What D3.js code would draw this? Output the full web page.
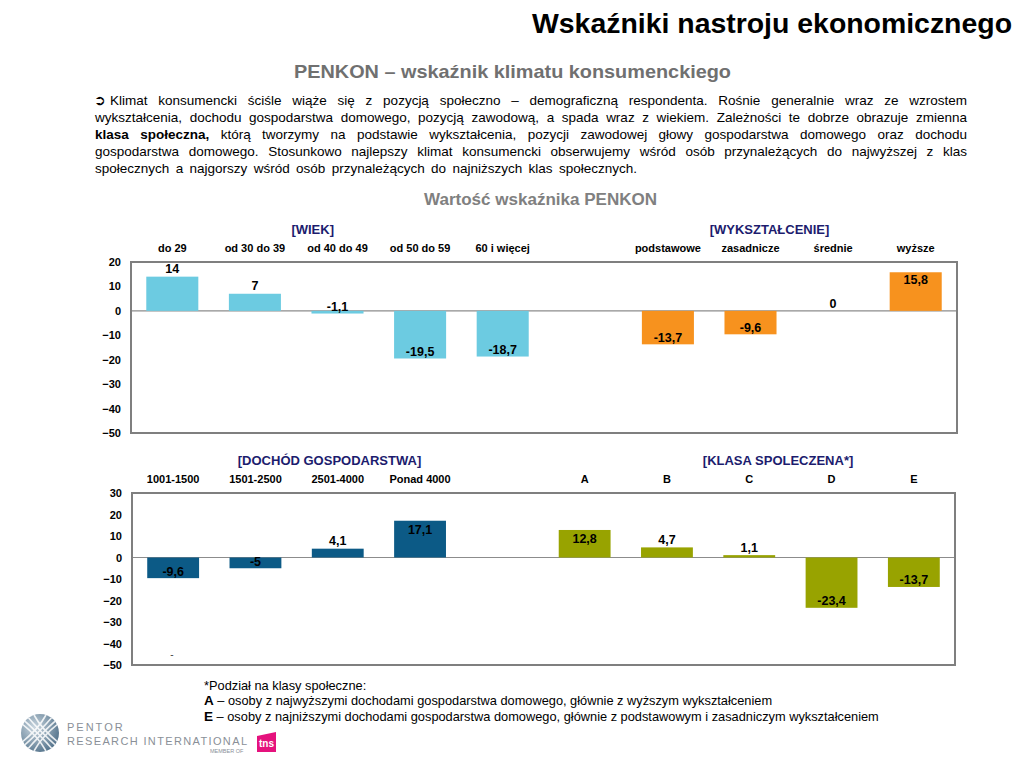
<!DOCTYPE html>
<html>
<head>
<meta charset="utf-8">
<script src="https://cdn.jsdelivr.net/npm/d3@7"></script>
<style>
  body { margin: 0; background: #fff; }
  svg { display: block; font-family: "Liberation Sans", Arial, sans-serif; }
</style>
</head>
<body>
<div id="chart"></div>
<script>
// chart values
const wiekLabels = ["do 29", "od 30 do 39", "od 40 do 49", "od 50 do 59", "60 i więcej"];
const wiekValues = [14, 7, -1.1, -19.5, -18.7];
const wyksztLabels = ["podstawowe", "zasadnicze", "średnie", "wyższe"];
const wyksztValues = [-13.7, -9.6, 0, 15.8];
const dochodLabels = ["1001-1500", "1501-2500", "2501-4000", "Ponad 4000"];
const dochodValues = [-9.6, -5, 4.1, 17.1];
const klasaLabels = ["A", "B", "C", "D", "E"];
const klasaValues = [12.8, 4.7, 1.1, -23.4, -13.7];
const ticksTop = [20, 10, 0, -10, -20, -30, -40, -50];
const ticksBottom = [30, 20, 10, 0, -10, -20, -30, -40, -50];

const paraLines = [
  [["Klimat konsumencki ściśle wiąże się z pozycją społeczno – demograficzną respondenta. Rośnie generalnie wraz ze wzrostem", false]],
  [["wykształcenia, dochodu gospodarstwa domowego, pozycją zawodową, a spada wraz z wiekiem. Zależności te dobrze obrazuje zmienna", false]],
  [["klasa społeczna,", true], ["którą tworzymy na podstawie wykształcenia, pozycji zawodowej głowy gospodarstwa domowego oraz dochodu", false]],
  [["gospodarstwa domowego. Stosunkowo najlepszy klimat konsumencki obserwujemy wśród osób przynależących do najwyższej z klas", false]],
  [["społecznych a najgorszy wśród osób przynależących do najniższych klas społecznych.", false]]
];

const W = 1024, H = 768;
const navy = "#1c1c6e";
const fmt = v => String(v).replace(".", ",");

const svg = d3.select("#chart").append("svg")
  .attr("width", W)
  .attr("height", H);

// title + subtitle
svg.append("text")
  .attr("x", 1012).attr("y", 33)
  .attr("text-anchor", "end")
  .attr("font-size", 27).attr("font-weight", "bold")
  .attr("textLength", 480).attr("lengthAdjust", "spacingAndGlyphs")
  .text("Wskaźniki nastroju ekonomicznego");

svg.append("text")
  .attr("x", 294).attr("y", 78)
  .attr("font-size", 19).attr("font-weight", "bold")
  .attr("fill", "#707070")
  .attr("textLength", 437).attr("lengthAdjust", "spacingAndGlyphs")
  .text("PENKON – wskaźnik klimatu konsumenckiego");

// justified paragraph
const para = svg.append("g").attr("font-size", 13.5);
para.append("text")
  .attr("x", 94).attr("y", 105)
  .attr("font-family", "DejaVu Sans")
  .attr("font-size", 14).attr("font-weight", "bold")
  .text("➲");

paraLines.forEach((segs, li) => {
  const last = li === paraLines.length - 1;
  const x0 = li === 0 ? 110 : 95, x1 = last ? 637 : 967, yy = 105 + li * 17;
  const words = [];
  segs.forEach(([t, bold]) => t.split(" ").forEach(w => words.push({ w, bold })));
  const nodes = words.map(d => para.append("text")
    .attr("y", yy)
    .attr("font-weight", d.bold ? "bold" : "normal")
    .text(d.w));
  const widths = nodes.map(n => n.node().getComputedTextLength());
  const gap = (x1 - x0 - d3.sum(widths)) / (words.length - 1);
  let cx = x0;
  nodes.forEach((n, i) => { n.attr("x", cx); cx += widths[i] + gap; });
});

svg.append("text")
  .attr("x", 424).attr("y", 205)
  .attr("font-size", 16).attr("font-weight", "bold")
  .attr("fill", "#808080")
  .attr("textLength", 233).attr("lengthAdjust", "spacingAndGlyphs")
  .text("Wartość wskaźnika PENKON");

// one panel of grouped bars
function drawPanel(cfg) {
  const g = svg.append("g");
  const y = d3.scaleLinear().domain(cfg.domain).range([cfg.bottom, cfg.top]);
  const x = d3.scaleBand().domain(d3.range(10))
    .range([cfg.left, cfg.right])
    .paddingInner(0.37).paddingOuter(0.185);
  const step = x.step();

  // y axis labels
  const axis = g.append("g")
    .attr("transform", `translate(${cfg.left},0)`)
    .call(d3.axisLeft(y).tickValues(cfg.ticks).tickSize(0).tickPadding(10).tickFormat(d3.format("d")));
  axis.select(".domain").remove();
  axis.selectAll("text")
    .attr("font-family", "Liberation Sans, Arial, sans-serif")
    .attr("font-size", 11).attr("font-weight", "bold").attr("fill", "#000");

  // zero line
  g.append("line")
    .attr("x1", cfg.left).attr("x2", cfg.right)
    .attr("y1", y(0)).attr("y2", y(0))
    .attr("stroke", "#8c8c8c").attr("stroke-width", 1.2);

  cfg.groups.forEach(grp => {
    // group header
    g.append("text")
      .attr("x", cfg.left + step * grp.headerAt)
      .attr("y", cfg.top - 28)
      .attr("text-anchor", "middle")
      .attr("font-size", 13).attr("font-weight", "bold")
      .attr("fill", navy)
      .text(grp.header);

    const data = grp.values.map((v, i) => ({ v, label: grp.labels[i], slot: grp.start + i }));

    g.selectAll(null).data(data).enter().append("text")
      .attr("x", d => x(d.slot) + x.bandwidth() / 2)
      .attr("y", cfg.top - 10)
      .attr("text-anchor", "middle")
      .attr("font-size", 11).attr("font-weight", "bold")
      .text(d => d.label);

    g.selectAll(null).data(data).enter().append("rect")
      .attr("x", d => x(d.slot))
      .attr("width", x.bandwidth())
      .attr("y", d => Math.min(y(d.v), y(0)))
      .attr("height", d => Math.abs(y(d.v) - y(0)))
      .attr("fill", grp.color);

    g.selectAll(null).data(data).enter().append("text")
      .attr("x", d => x(d.slot) + x.bandwidth() / 2)
      .attr("y", d => {
        const end = y(d.v);
        if (d.v <= 0) return end - 7;
        if (cfg.insideBig && y(0) - end > 20) return end + 9;
        if (end - 13 < cfg.top) return end + 7;
        return end - 8;
      })
      .attr("dy", "0.35em")
      .attr("text-anchor", "middle")
      .attr("font-size", 12.5).attr("font-weight", "bold")
      .text(d => fmt(d.v));
  });

  // frame
  g.append("rect")
    .attr("x", cfg.left).attr("y", cfg.top)
    .attr("width", cfg.right - cfg.left).attr("height", cfg.bottom - cfg.top)
    .attr("fill", "none").attr("stroke", "#7f7f7f").attr("stroke-width", 2);

  return { x, y };
}

drawPanel({
  top: 262, bottom: 433, left: 131, right: 957,
  domain: [-50, 20], ticks: ticksTop, insideBig: false,
  groups: [
    { header: "[WIEK]", headerAt: 2.2, labels: wiekLabels, values: wiekValues, start: 0, color: "#6ccbe1" },
    { header: "[WYKSZTAŁCENIE]", headerAt: 7.73, labels: wyksztLabels, values: wyksztValues, start: 6, color: "#f7921e" }
  ]
});

const p2 = drawPanel({
  top: 493, bottom: 665, left: 132, right: 955,
  domain: [-50, 30], ticks: ticksBottom, insideBig: true,
  groups: [
    { header: "[DOCHÓD GOSPODARSTWA]", headerAt: 2.4, labels: dochodLabels, values: dochodValues, start: 0, color: "#0c5a86" },
    { header: "[KLASA SPOLECZENA*]", headerAt: 7.85, labels: klasaLabels, values: klasaValues, start: 5, color: "#98a300" }
  ]
});

// stray dash left in the original slide
svg.append("text")
  .attr("x", p2.x(0) + p2.x.bandwidth() / 2 - 3)
  .attr("y", p2.y(-45))
  .attr("dy", "0.35em")
  .attr("font-size", 10).attr("fill", "#444")
  .text("-");

// footnote
const foot = svg.append("g").attr("font-size", 12.8);
foot.append("text").attr("x", 204).attr("y", 690).text("*Podział na klasy społeczne:");
const fa = foot.append("text").attr("x", 204).attr("y", 705);
fa.append("tspan").attr("font-weight", "bold").attr("font-size", 13.5).text("A");
fa.append("tspan").text(" – osoby z najwyższymi dochodami gospodarstwa domowego, głównie z wyższym wykształceniem");
const fe = foot.append("text").attr("x", 204).attr("y", 721);
fe.append("tspan").attr("font-weight", "bold").attr("font-size", 13.5).text("E");
fe.append("tspan").text(" – osoby z najniższymi dochodami gospodarstwa domowego, głównie z podstawowym i zasadniczym wykształceniem");

// logo
const logo = svg.append("g");
const defs = svg.append("defs");
const grad = defs.append("radialGradient").attr("id", "globe").attr("cx", "35%").attr("cy", "35%").attr("r", "75%");
grad.append("stop").attr("offset", "0%").attr("stop-color", "#c9d6df");
grad.append("stop").attr("offset", "100%").attr("stop-color", "#4f6f88");
defs.append("clipPath").attr("id", "globeClip")
  .append("circle").attr("cx", 40).attr("cy", 733).attr("r", 19);
logo.append("circle").attr("cx", 40).attr("cy", 733).attr("r", 19).attr("fill", "url(#globe)");
const mesh = logo.append("g").attr("clip-path", "url(#globeClip)")
  .attr("fill", "none").attr("stroke", "#fff").attr("stroke-width", 1.6).attr("opacity", 0.85);
[-12, -4, 4, 12].forEach(o => {
  mesh.append("path").attr("d", `M${22 + o},${715} Q${40 + o * 0.3},${733} ${58 + o},${751}`);
  mesh.append("path").attr("d", `M${58 + o},${715} Q${40 + o * 0.3},${733} ${22 + o},${751}`);
});
logo.append("text").attr("x", 67).attr("y", 731)
  .attr("font-size", 11).attr("fill", "#8a9098").attr("letter-spacing", 2)
  .text("PENTOR");
logo.append("text").attr("x", 67).attr("y", 745)
  .attr("font-size", 11).attr("fill", "#8a9098")
  .attr("textLength", 180).attr("lengthAdjust", "spacing")
  .text("RESEARCH INTERNATIONAL");
logo.append("text").attr("x", 210).attr("y", 753)
  .attr("font-size", 5.5).attr("fill", "#8a9098")
  .text("MEMBER OF");
logo.append("path").attr("d", "M257,736 L276,732 L276,752 L257,752 Z").attr("fill", "#e5127d");
logo.append("text").attr("x", 259).attr("y", 747)
  .attr("font-size", 10).attr("font-weight", "bold").attr("fill", "#fff")
  .text("tns");
</script>
</body>
</html>
